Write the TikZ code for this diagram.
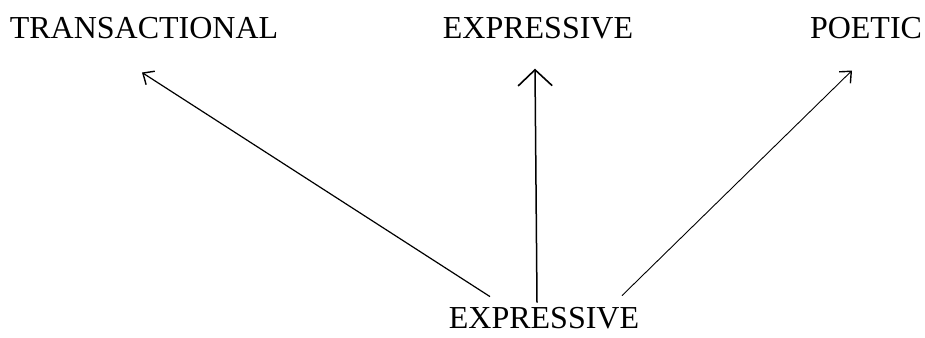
\documentclass[tikz,border=0pt]{standalone}
\usepackage{fontspec}
\setmainfont{Liberation Serif}
\usepackage{tikz}
\usetikzlibrary{arrows.meta}
\tikzset{
  mode/.style = {inner sep=0pt, anchor=base, font=\fontsize{32}{38}\selectfont},
  shift arrow/.style = {line width=1.2pt, -{Straight Barb[length=9pt,width=16pt,line width=1.4pt]}},
  big arrow/.style = {line width=1.5pt, -{Straight Barb[length=16pt,width=34pt,line width=1.6pt]}}
}

\begin{document}
\begin{tikzpicture}[x=1pt,y=1pt]

  \useasboundingbox (0,0) rectangle (925,337);

  % the three kinds of writing
  \node[mode] (trans) at (144,298) {TRANSACTIONAL};
  \node[mode] (expr)  at (538,298) {EXPRESSIVE};
  \node[mode] (poet)  at (866,298) {POETIC};

  % where it starts
  \node[mode] (base) at (544,9) {EXPRESSIVE};

  \draw[shift arrow] ([shift={(-54,10)}]base.north) -- ([shift={(-2,-33)}]trans.south);
  \draw[big arrow]   ([shift={(-7,4)}]base.north)  -- ([shift={(-3,-29)}]expr.south);
  \draw[shift arrow, line width=0.9pt] ([shift={(78,11)}]base.north) -- ([shift={(-14,-31)}]poet.south);

\end{tikzpicture}
\end{document}
